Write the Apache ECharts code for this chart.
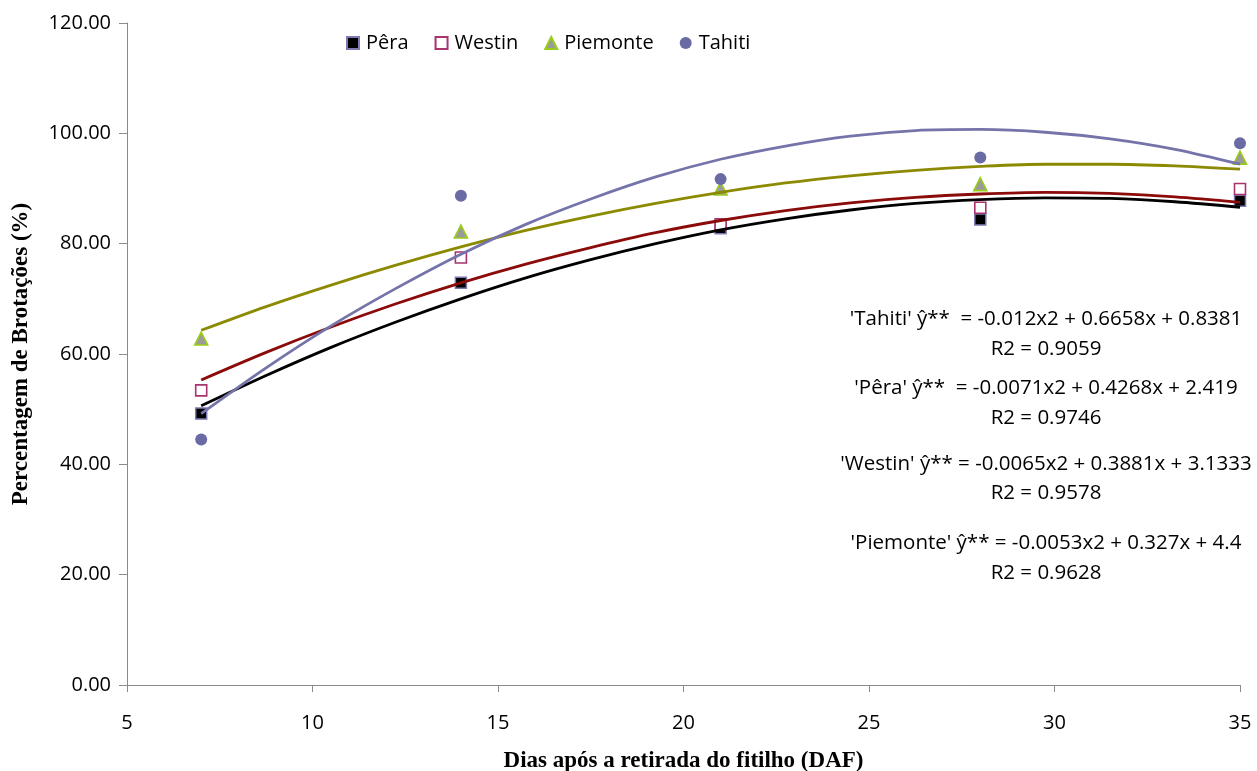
<!DOCTYPE html>
<html>
<head>
<meta charset="utf-8">
<script src="https://cdn.jsdelivr.net/npm/echarts@6/dist/echarts.min.js"></script>
<style>
html,body{margin:0;padding:0;background:#fff;overflow:hidden;}
#chart{width:1257px;height:771px;}
</style>
</head>
<body>
<div id="chart"></div>
<script>
// Observed data (days after removal, % sprouting)
const days = [7, 14, 21, 28, 35];
const pera = [49.2, 72.9, 82.8, 84.4, 87.8];
const westin = [53.4, 77.5, 83.5, 86.5, 89.9];
const piemonte = [62.8, 82.2, 90.0, 90.8, 95.6];
const tahiti = [44.5, 88.7, 91.7, 95.6, 98.2];

// Trend curves
const trendX = [7, 8.75, 10.5, 12.25, 14, 15.75, 17.5, 19.25, 21, 22.75, 24.5, 26.25, 28, 29.75, 31.5, 33.25, 35];
const peraTrend = [50.6, 56.1, 61.2, 65.8, 70.0, 73.8, 77.1, 80.0, 82.5, 84.5, 86.1, 87.3, 88.0, 88.3, 88.2, 87.6, 86.6];
const westinTrend = [55.3, 60.3, 64.9, 69.1, 72.9, 76.3, 79.3, 82.0, 84.2, 86.0, 87.4, 88.4, 89.0, 89.3, 89.1, 88.5, 87.5];
const piemonteTrend = [64.3, 68.6, 72.5, 76.1, 79.4, 82.4, 85.0, 87.3, 89.3, 91.0, 92.3, 93.3, 94.0, 94.4, 94.4, 94.1, 93.5];
const tahitiTrend = [49.2, 57.5, 65.1, 71.9, 78.1, 83.5, 88.1, 92.1, 95.3, 97.7, 99.5, 100.5, 100.7, 100.2, 99.0, 97.1, 94.4];

const xTicks = [5, 10, 15, 20, 25, 30, 35];
const yTicks = [0, 20, 40, 60, 80, 100, 120];

const equations = [
  ["'Tahiti' ŷ**  = -0.012x2 + 0.6658x + 0.8381", "R2 = 0.9059"],
  ["'Pêra' ŷ**  = -0.0071x2 + 0.4268x + 2.419", "R2 = 0.9746"],
  ["'Westin' ŷ** = -0.0065x2 + 0.3881x + 3.1333", "R2 = 0.9578"],
  ["'Piemonte' ŷ** = -0.0053x2 + 0.327x + 4.4", "R2 = 0.9628"]
];

const pair = (xs, ys) => xs.map((x, i) => [x, ys[i]]);
const font = "'Open Sans', 'Noto Sans', sans-serif";
const serif = "'Liberation Serif', 'DejaVu Serif', serif";

const chart = echarts.init(document.getElementById('chart'), null, {renderer: 'canvas'});

function scatter(name, data, symbol, size, fill, border, bw) {
  return {
    name, type: 'scatter', data: pair(days, data), symbol, symbolSize: size, z: 2,
    itemStyle: {color: fill, borderColor: border, borderWidth: bw, opacity: 1}
  };
}
function trend(data, color) {
  return {
    type: 'line', data: pair(trendX, data), smooth: 0.3, showSymbol: false, symbol: 'none', z: 3,
    lineStyle: {color, width: 2.8}, silent: true
  };
}

const eqY = [[319, 349], [388, 418], [464, 493], [543, 573]];
const graphics = [];
equations.forEach((e, i) => {
  e.forEach((t, j) => {
    graphics.push({
      type: 'text', x: 1046, y: eqY[i][j],
      style: {text: t, font: "20.5px " + font, fill: '#000', textAlign: 'center', textVerticalAlign: 'middle'}
    });
  });
});

chart.setOption({
  animation: false,
  backgroundColor: '#fff',
  grid: {left: 127, right: 17, top: 23, bottom: 86, containLabel: false, outerBoundsMode: 'none'},
  legend: {
    data: ['Pêra', 'Westin', 'Piemonte', 'Tahiti'],
    left: 341, top: 28, itemGap: 26, itemWidth: 12, itemHeight: 12,
    textStyle: {fontFamily: font, fontSize: 20, color: '#000', padding: [0, 0, 0, 2]}
  },
  xAxis: {
    type: 'value', min: 5, max: 35, interval: 5,
    name: 'Dias após a retirada do fitilho (DAF)', nameLocation: 'middle', nameGap: 65,
    nameTextStyle: {fontFamily: serif, fontWeight: 'bold', fontSize: 23, color: '#000'},
    axisLine: {lineStyle: {color: '#8a8a8a', width: 1}},
    axisTick: {show: true, length: 7, lineStyle: {color: '#8a8a8a'}},
    axisLabel: {fontFamily: font, fontSize: 20, color: '#000', margin: 28,
      formatter: v => xTicks.includes(v) ? String(v) : ''},
    splitLine: {show: false}
  },
  yAxis: {
    type: 'value', min: 0, max: 120, interval: 20,
    name: 'Percentagem de Brotações (%)', nameLocation: 'middle', nameGap: 94,
    nameTextStyle: {fontFamily: serif, fontWeight: 'bold', fontSize: 23, color: '#000'},
    axisLine: {show: true, lineStyle: {color: '#8a8a8a', width: 1}},
    axisTick: {show: true, length: 8, lineStyle: {color: '#8a8a8a'}},
    axisLabel: {fontFamily: font, fontSize: 20, color: '#000', margin: 16,
      formatter: v => yTicks.includes(v) ? v.toFixed(2) : ''},
    splitLine: {show: false}
  },
  series: [
    scatter('Pêra', pera, 'rect', 11, '#000000', '#7b7bb0', 1.5),
    scatter('Westin', westin, 'rect', 11, '#ffffff', '#a8336e', 1.6),
    scatter('Piemonte', piemonte, 'triangle', 13, '#9a9a9a', '#9acd1a', 1.6),
    scatter('Tahiti', tahiti, 'circle', 12, '#6a6aa4', '#6a6aa4', 0),
    trend(peraTrend, '#000000'),
    trend(westinTrend, '#8b0a0a'),
    trend(piemonteTrend, '#8c8a00'),
    trend(tahitiTrend, '#7474aa')
  ],
  graphic: graphics
});
</script>
</body>
</html>
